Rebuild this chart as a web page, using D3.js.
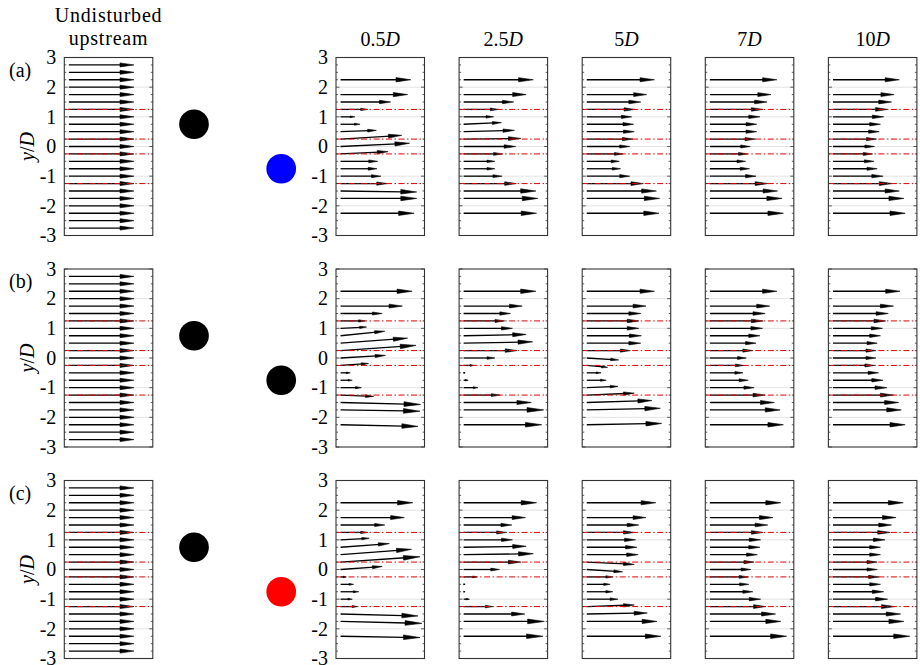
<!DOCTYPE html>
<html>
<head>
<meta charset="utf-8">
<script src="https://cdn.jsdelivr.net/npm/d3@7"></script>
<style>
  body { margin: 0; background: #fff; }
  svg { display: block; }
  text { font-family: "Liberation Serif", "DejaVu Serif", serif; fill: #000; }
</style>
</head>
<body>
<div id="chart"></div>
<script>
// measurement heights (y/D) of the downstream profiles
var yDown = [2.25, 1.75, 1.5, 1.25, 1, 0.75, 0.5, 0.25, 0, -0.25, -0.5, -0.75, -1, -1.25, -1.5, -1.75, -2.25];
// heights of the undisturbed upstream profile
var yUp = [2.75, 2.5, 2.25, 2, 1.75, 1.5, 1.25, 1, 0.75, 0.5, 0.25, 0, -0.25, -0.5, -0.75, -1, -1.25, -1.5, -1.75, -2, -2.25, -2.5, -2.75];
var uUp = [1, 1, 1, 1, 1, 1, 1, 1, 1, 1, 1, 1, 1, 1, 1, 1, 1, 1, 1, 1, 1, 1, 1];
var vUp = [0, 0, 0, 0, 0, 0, 0, 0, 0, 0, 0, 0, 0, 0, 0, 0, 0, 0, 0, 0, 0, 0, 0];

var stations = ["0.5", "2.5", "5", "7", "10"];
var rowLabels = ["(a)", "(b)", "(c)"];
var lowerColors = ["#0000ff", "#000000", "#ff0000"];
var shearY = [1.25, 0.25, -0.25, -1.25];
var yTicks = [3, 2, 1, 0, -1, -2, -3];
var gridY = [2, 1, 0, -1, -2];
var cylX = [0, 3];        // x/D of the two cylinders
var cylY = [0.75, -0.75]; // y/D of the two cylinders

// streamwise velocity u/U per station (rows a, b, c)
var uRowA = [
  [1.08, 1.03, 0.77, 0.42, 0.22, 0.30, 0.55, 0.94, 1.06, 0.73, 0.57, 0.56, 0.62, 0.72, 1.17, 1.17, 1.13],
  [1.07, 0.96, 0.77, 0.54, 0.46, 0.58, 0.78, 0.88, 0.80, 0.60, 0.48, 0.48, 0.59, 0.81, 1.11, 1.14, 1.12],
  [1.04, 0.92, 0.83, 0.74, 0.69, 0.72, 0.73, 0.71, 0.66, 0.56, 0.50, 0.52, 0.66, 0.87, 1.07, 1.12, 1.11],
  [1.03, 0.94, 0.88, 0.82, 0.77, 0.72, 0.72, 0.70, 0.62, 0.58, 0.55, 0.61, 0.71, 0.89, 1.04, 1.11, 1.13],
  [1.02, 0.94, 0.90, 0.84, 0.78, 0.73, 0.71, 0.67, 0.64, 0.61, 0.63, 0.68, 0.77, 0.91, 1.02, 1.09, 1.11]
];
var uRowB = [
  [1.10, 0.95, 0.64, 0.38, 0.40, 0.68, 1.03, 1.16, 0.69, 0.43, 0.15, 0.18, 0.32, 0.51, 1.23, 1.22, 1.19],
  [1.11, 0.90, 0.72, 0.63, 0.75, 0.96, 1.06, 0.82, 0.48, 0.16, 0.02, 0.07, 0.22, 0.56, 1.04, 1.23, 1.20],
  [1.04, 0.91, 0.83, 0.80, 0.80, 0.84, 0.83, 0.67, 0.49, 0.32, 0.22, 0.30, 0.48, 0.73, 1.00, 1.13, 1.15],
  [1.03, 0.92, 0.85, 0.82, 0.81, 0.77, 0.71, 0.66, 0.56, 0.52, 0.51, 0.59, 0.68, 0.85, 0.99, 1.08, 1.13],
  [1.03, 0.93, 0.85, 0.81, 0.76, 0.73, 0.68, 0.66, 0.66, 0.64, 0.70, 0.77, 0.83, 0.93, 1.01, 1.05, 1.11]
];
var uRowC = [
  [1.11, 0.98, 0.68, 0.42, 0.44, 0.75, 1.09, 1.22, 0.64, 0.09, 0.20, 0.28, 0.18, 0.26, 1.19, 1.25, 1.22],
  [1.12, 0.95, 0.74, 0.66, 0.75, 0.96, 1.07, 0.88, 0.55, 0.21, 0.02, 0.01, 0.09, 0.45, 0.94, 1.24, 1.22],
  [1.06, 0.91, 0.80, 0.73, 0.75, 0.77, 0.79, 0.73, 0.55, 0.40, 0.36, 0.40, 0.48, 0.73, 0.93, 1.08, 1.14],
  [1.09, 0.97, 0.89, 0.82, 0.78, 0.77, 0.73, 0.68, 0.63, 0.59, 0.60, 0.66, 0.78, 0.86, 1.01, 1.09, 1.18],
  [1.08, 0.97, 0.90, 0.88, 0.80, 0.73, 0.73, 0.68, 0.68, 0.71, 0.73, 0.78, 0.84, 0.95, 1.04, 1.09, 1.18]
];

// transverse velocity v/U per station (mostly flat)
var vRowA = [
  [0, 0, 0, 0, 0, 0, 0.02, 0.057, 0.05, 0.035, 0, 0, 0, 0, -0.015, 0, 0],
  [0, 0, 0, 0, 0, 0.025, 0.02, 0.01, 0, 0, 0, 0, 0, 0, 0, 0, 0],
  [0, 0, 0, 0, 0, 0, 0, 0, 0, 0, 0, 0, 0, 0, 0, 0, 0],
  [0, 0, 0, 0, 0, 0, 0, 0, 0, 0, 0, 0, 0, 0, 0, 0, 0],
  [0, 0, 0, 0, 0, 0, 0, 0, 0, 0, 0, 0, 0, 0, 0, 0, 0]
];
var vRowB = [
  [0, 0, 0, 0, 0.02, 0.07, 0.077, 0.08, 0.04, 0.03, 0, 0, 0, -0.02, -0.03, -0.02, -0.025],
  [0, 0, 0, 0, 0, 0.02, 0.02, 0, 0, 0, 0, 0, 0, 0, 0, 0, 0],
  [0, 0, 0, 0, 0, 0, 0, 0, -0.03, -0.03, 0, 0, 0.02, 0.03, 0.03, 0.025, 0.02],
  [0, 0, 0, 0, 0, 0, 0, 0, 0, 0, 0, 0, 0, 0, 0, 0, 0],
  [0, 0, 0, 0, 0, 0, 0, 0, 0, 0, 0, 0, 0, 0, 0, 0, 0]
];
var vRowC = [
  [0, 0, 0, 0, 0.025, 0.056, 0.082, 0.082, 0.046, 0, 0, 0, 0, 0, -0.03, -0.03, -0.02],
  [0, 0, 0, 0, 0, 0.015, 0.015, 0, 0, 0, 0, 0, 0, 0, 0, 0, 0],
  [0, 0, 0, 0, 0, 0, 0, -0.036, -0.036, 0, 0, 0, 0, 0.025, 0.015, 0, 0],
  [0, 0, 0, 0, 0, 0, 0, 0, 0, 0, 0, 0, 0, 0, 0, 0, 0],
  [0, 0, 0, 0, 0, 0, 0, 0, 0, 0, 0, 0, 0, 0, 0, 0, 0]
];

var uRows = [uRowA, uRowB, uRowC];
var vRows = [vRowA, vRowB, vRowC];

(function() {
    var width = 920, height = 665;
    var boxW = 88.5, boxH = 178;
    var upLeft = 64.3, downLeft = 336, downStep = 123.1;
    var rowTop0 = 57.5, rowStep = 211.5;
    var fontSize = "20px";

    var svg = d3.select("#chart").append("svg")
        .attr("width", width)
        .attr("height", height)
        .attr("font-family", "'Liberation Serif', 'DejaVu Serif', serif");

    function drawPanel(g, y, left, ys, us, vs, showLabels) {
        var x = d3.scaleLinear().domain([-0.07, 1.29]).range([left, left + boxW]);
        var k = x(1) - x(0);

        // light grid lines
        g.selectAll(null).data(gridY).enter().append("line")
            .attr("x1", left).attr("x2", left + boxW)
            .attr("y1", function(d) { return y(d); })
            .attr("y2", function(d) { return y(d); })
            .attr("stroke", "#e3e3e3")
            .attr("stroke-width", 1);

        // arrows
        ys.forEach(function(yy, i) {
            var x0 = x(0), y0 = y(yy);
            var x1 = x(us[i]), y1 = y0 - vs[i] * k;
            var dx = x1 - x0, dy = y1 - y0;
            var len = Math.sqrt(dx * dx + dy * dy);
            if (len < 0.01) return;
            var ux = dx / len, uy = dy / len;
            var hl = Math.min(0.18 * len + 2.2, len), hw = 0.12 * hl + 0.35;
            var bx = x1 - ux * hl, by = y1 - uy * hl;
            g.append("line")
                .attr("x1", x0).attr("y1", y0)
                .attr("x2", bx + ux * 1.5).attr("y2", by + uy * 1.5)
                .attr("stroke", "#000")
                .attr("stroke-width", 1.3);
            g.append("path")
                .attr("d", "M" + x1 + "," + y1 +
                    "L" + (bx - uy * hw) + "," + (by + ux * hw) +
                    "L" + (bx + uy * hw) + "," + (by - ux * hw) + "Z")
                .attr("fill", "#000")
                .attr("stroke", "#000")
                .attr("stroke-width", 0.6)
                .attr("stroke-linejoin", "round");
        });

        // cylinder edge lines
        g.selectAll(null).data(shearY).enter().append("line")
            .attr("x1", left).attr("x2", left + boxW)
            .attr("y1", function(d) { return y(d); })
            .attr("y2", function(d) { return y(d); })
            .attr("stroke", "#e00000")
            .attr("stroke-width", 1)
            .attr("stroke-dasharray", "6,2.5,1.5,2.5");

        // ticks on both sides
        var ticks = d3.range(-3, 3.001, 0.25);
        ticks.forEach(function(t) {
            var tl = (Math.abs(t - Math.round(t)) < 1e-6) ? 3.5 : 2;
            g.append("line").attr("x1", left).attr("x2", left + tl)
                .attr("y1", y(t)).attr("y2", y(t))
                .attr("stroke", "#333").attr("stroke-width", 0.8);
            g.append("line").attr("x1", left + boxW - tl).attr("x2", left + boxW)
                .attr("y1", y(t)).attr("y2", y(t))
                .attr("stroke", "#333").attr("stroke-width", 0.8);
        });

        g.append("rect")
            .attr("x", left).attr("y", y(3))
            .attr("width", boxW).attr("height", y(-3) - y(3))
            .attr("fill", "none")
            .attr("stroke", "#333")
            .attr("stroke-width", 1.1);

        if (showLabels) {
            g.selectAll(null).data(yTicks).enter().append("text")
                .attr("x", left - 8)
                .attr("y", function(d) { return y(d); })
                .attr("dy", "0.34em")
                .attr("text-anchor", "end")
                .style("font-size", fontSize)
                .text(function(d) { return d < 0 ? "-" + Math.abs(d) : d; });
        }
    }

    for (var r = 0; r < 3; r++) {
        var rowTop = rowTop0 + r * rowStep;
        var y = d3.scaleLinear().domain([3, -3]).range([rowTop, rowTop + boxH]);
        var g = svg.append("g");

        // undisturbed upstream profile
        drawPanel(g, y, upLeft, yUp, uUp, vUp, true);

        // downstream stations
        for (var s = 0; s < stations.length; s++) {
            drawPanel(g, y, downLeft + s * downStep, yDown, uRows[r][s], vRows[r][s], s === 0);
        }

        // cylinders
        var pxD = y(0) - y(1);
        var xg = d3.scaleLinear().domain([0, 1]).range([194, 194 + pxD * 0.98]);
        var lowerColor = lowerColors[r];
        g.selectAll("circle").data(cylX).enter().append("circle")
            .attr("cx", function(d) { return xg(d); })
            .attr("cy", function(d, i) { return y(cylY[i]); })
            .attr("r", pxD / 2)
            .attr("fill", function(d, i) { return i === 0 ? "#000" : lowerColor; });

        // row label
        g.append("text")
            .attr("x", 9)
            .attr("y", y(3) + 19)
            .style("font-size", fontSize)
            .text(rowLabels[r]);

        // y label
        var yl = g.append("text")
            .attr("transform", "translate(34," + y(0) + ") rotate(-90)")
            .attr("text-anchor", "middle")
            .style("font-size", fontSize);
        yl.append("tspan").style("font-style", "italic").text("y");
        yl.append("tspan").text("/");
        yl.append("tspan").style("font-style", "italic").text("D");
    }

    // column titles
    svg.append("text").attr("x", upLeft + boxW / 2).attr("y", 22)
        .attr("text-anchor", "middle").style("font-size", fontSize)
        .style("letter-spacing", "0.8px").text("Undisturbed");
    svg.append("text").attr("x", upLeft + boxW / 2).attr("y", 45)
        .attr("text-anchor", "middle").style("font-size", fontSize)
        .style("letter-spacing", "0.8px").text("upstream");

    stations.forEach(function(st, s) {
        var t = svg.append("text")
            .attr("x", downLeft + s * downStep + boxW / 2)
            .attr("y", 46)
            .attr("text-anchor", "middle")
            .style("font-size", fontSize);
        t.append("tspan").text(st);
        t.append("tspan").style("font-style", "italic").text("D");
    });
})();
</script>
</body>
</html>
